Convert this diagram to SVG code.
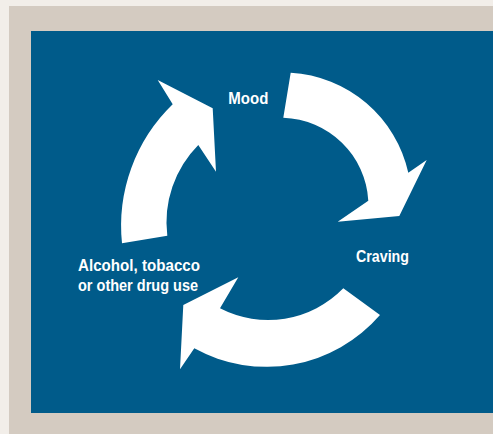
<svg xmlns="http://www.w3.org/2000/svg" width="493" height="434" viewBox="0 0 493 434">
  <style>
    .arrow { fill: #ffffff; stroke: none; }
    .label { font-family: "Liberation Sans Narrow", "Liberation Sans", Arial, sans-serif; font-weight: bold; font-size: 16.5px; fill: #ffffff; }
  </style>
  <rect x="0" y="0" width="493" height="434" fill="#f2eee9"/>
  <rect x="9" y="6" width="484" height="428" fill="#d4cbc1"/>
  <rect x="31" y="31" width="462" height="382" fill="#005b8a"/>
  <g id="connectors">
    <path id="arrow-use-to-mood" class="arrow" d="M 122 243.3 A 169 169 0 0 1 172.7 104.3 L 157.7 80 L 212.7 108.3 L 216 171.7 L 198.3 145 A 110 110 0 0 0 167.3 235.7 Z"/>
    <path id="arrow-mood-to-craving" class="arrow" d="M 290.7 72.7 A 128 128 0 0 1 408.3 172.7 L 426.7 160 L 399.3 216 L 337.7 221.7 L 368.3 200.7 A 88 88 0 0 0 283.3 117.7 Z"/>
    <path id="arrow-craving-to-use" class="arrow" d="M 380 315 A 150 150 0 0 1 194.3 348.3 L 180 369.3 L 183.3 305 L 238.3 277.3 L 220 308.3 A 105 105 0 0 0 343.3 288.3 Z"/>
  </g>
  <g id="node-mood">
    <text class="label" x="228.3" y="104" textLength="40" lengthAdjust="spacingAndGlyphs">Mood</text>
  </g>
  <g id="node-craving">
    <text class="label" x="356" y="262" textLength="53" lengthAdjust="spacingAndGlyphs">Craving</text>
  </g>
  <g id="node-use">
    <text class="label" x="78" y="271" textLength="122" lengthAdjust="spacingAndGlyphs">Alcohol, tobacco</text>
    <text class="label" x="78" y="291" textLength="120" lengthAdjust="spacingAndGlyphs">or other drug use</text>
  </g>
</svg>
